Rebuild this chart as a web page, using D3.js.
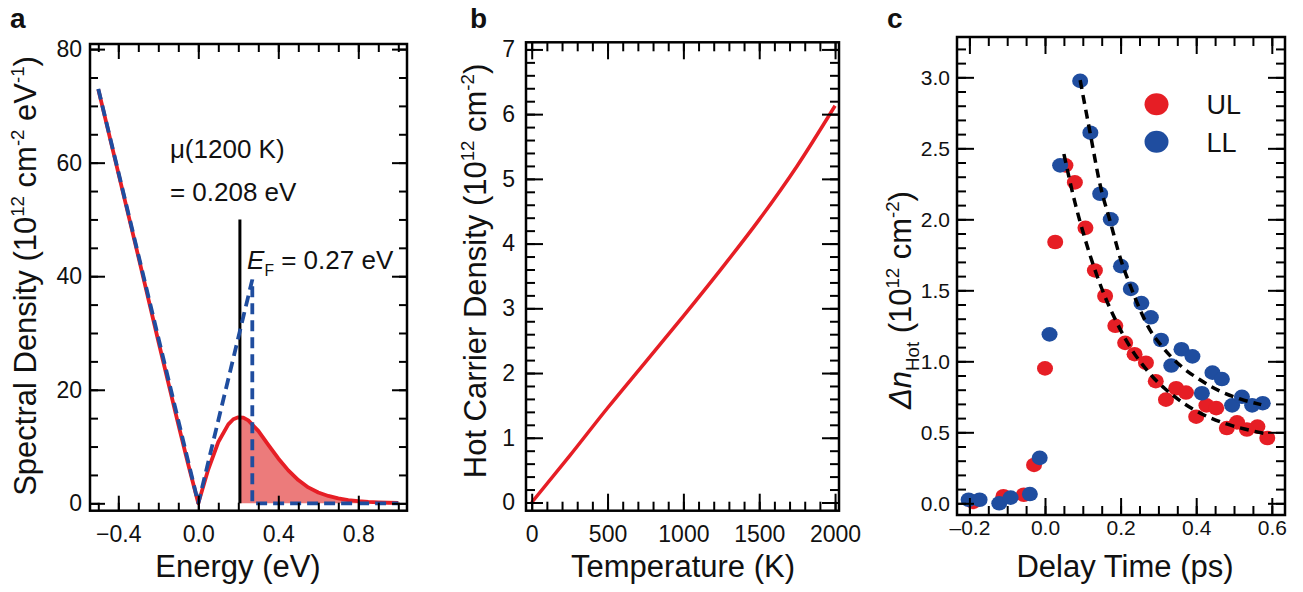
<!DOCTYPE html>
<html>
<head>
<meta charset="utf-8">
<script src="https://cdn.jsdelivr.net/npm/d3@7"></script>
<style>
body { margin: 0; background: #fff; }
text { font-family: "Liberation Sans", Arial, sans-serif; fill: #111; }
</style>
</head>
<body>
<svg id="chart" width="1303" height="592"></svg>
<script>
// ---- panel a: spectral density vs energy
const energyEv = [-0.5, -0.4, -0.3, -0.2, -0.1, -0.05, 0, 0.05, 0.1, 0.15, 0.175, 0.2, 0.225, 0.25, 0.3, 0.35, 0.4, 0.45, 0.5, 0.55, 0.6, 0.65, 0.7, 0.75, 0.8, 0.85, 0.9, 0.95, 1.0];
const spectralHot = [72.9, 58.2, 43.5, 28.6, 13.9, 6.8, 0, 6.0, 10.8, 13.9, 14.8, 15.15, 15.1, 14.6, 12.75, 10.3, 7.9, 5.8, 4.1, 2.8, 1.9, 1.3, 0.87, 0.58, 0.38, 0.25, 0.16, 0.1, 0.07];
const dosEnergyEv = [-0.5, 0, 0.27, 0.27, 1.0];
const dosDensity = [73, 0, 39.4, 0, 0];
const muEv = 0.208;
const muLineTop = 50;

// ---- panel b: hot carrier density vs temperature
const temperatureK = [0, 250, 500, 750, 1000, 1250, 1500, 1750, 2000];
const hotCarrierDensity = [0, 0.72, 1.46, 2.17, 2.88, 3.61, 4.37, 5.2, 6.13];

// ---- panel c: delta n hot vs delay time
const ulDelay = [-0.19, -0.11, -0.056, -0.029, 0.0, 0.027, 0.054, 0.079, 0.107, 0.132, 0.159, 0.186, 0.212, 0.237, 0.267, 0.293, 0.32, 0.347, 0.373, 0.4, 0.427, 0.453, 0.481, 0.508, 0.534, 0.562, 0.588];
const ulDensity = [0.01, 0.05, 0.06, 0.27, 0.95, 1.84, 2.38, 2.26, 1.94, 1.64, 1.46, 1.25, 1.13, 1.05, 0.99, 0.86, 0.73, 0.81, 0.78, 0.61, 0.69, 0.67, 0.53, 0.57, 0.52, 0.54, 0.46];
const llDelay = [-0.202, -0.173, -0.121, -0.091, -0.04, -0.014, 0.012, 0.04, 0.093, 0.12, 0.146, 0.174, 0.201, 0.227, 0.255, 0.28, 0.307, 0.334, 0.361, 0.39, 0.415, 0.443, 0.468, 0.495, 0.521, 0.548, 0.576];
const llDensity = [0.025, 0.025, 0.0, 0.04, 0.065, 0.32, 1.19, 2.38, 2.975, 2.61, 2.18, 2.0, 1.67, 1.51, 1.41, 1.31, 1.15, 0.97, 1.085, 1.035, 0.775, 0.92, 0.875, 0.69, 0.75, 0.69, 0.705];
const ulFitDelay = [0.05, 0.08, 0.105, 0.13, 0.158, 0.185, 0.21, 0.24, 0.263, 0.29, 0.316, 0.369, 0.422, 0.475, 0.528, 0.585];
const ulFitDensity = [2.46, 2.11, 1.87, 1.66, 1.46, 1.3, 1.17, 1.04, 0.96, 0.875, 0.81, 0.7, 0.62, 0.563, 0.523, 0.49];
const llFitDelay = [0.093, 0.12, 0.146, 0.173, 0.2, 0.226, 0.252, 0.278, 0.305, 0.358, 0.41, 0.463, 0.516, 0.572];
const llFitDensity = [2.98, 2.6, 2.24, 1.98, 1.72, 1.53, 1.36, 1.22, 1.12, 0.97, 0.87, 0.79, 0.735, 0.695];
const legendLabels = ["UL", "LL"];

const RED = "#e61e25", BLUE = "#1f4d9f", FILL = "#ec7b7b";

const svg = d3.select("#chart");

function zip(xs, ys){ return xs.map((v, i) => [v, ys[i]]); }

function range(a, b, step){
	// tick positions only
	const out = [];
	for (let v = a; v <= b + step / 1000; v += step) out.push(+v.toFixed(4));
	return out;
}

function richText(sel, parts, size){
	let shift = 0;
	parts.forEach(([str, kind]) => {
		const t = sel.append("tspan").text(str);
		let target = 0;
		if (kind === "sup") { target = -0.4 * size; t.attr("font-size", size * 0.6); }
		else if (kind === "sub") { target = 0.25 * size; t.attr("font-size", size * 0.6); }
		else if (kind === "i") t.attr("font-style", "italic");
		t.attr("dy", target - shift);
		shift = target;
	});
}

function drawAxes(cfg){
	const x = cfg.x, y = cfg.y;
	const [x0, x1] = x.range(), [y0, y1] = y.range();
	const g = svg.append("g");

	const sides = [
		[d3.axisBottom, x, `translate(0,${y0})`, true, cfg.xMajor, cfg.xMinor],
		[d3.axisTop, x, `translate(0,${y1})`, false, cfg.xMajor, cfg.xMinor],
		[d3.axisLeft, y, `translate(${x0},0)`, true, cfg.yMajor, cfg.yMinor],
		[d3.axisRight, y, `translate(${x1},0)`, false, cfg.yMajor, cfg.yMinor]
	];
	sides.forEach(([axisFn, scale, tr, labelled, major, minor], i) => {
		const pad = i < 2 ? cfg.xPad : cfg.yPad;
		const fmt = i < 2 ? cfg.xFormat : cfg.yFormat;
		g.append("g").attr("transform", tr)
			.call(axisFn(scale).tickValues(minor).tickSize(-cfg.minorLen).tickFormat(""));
		g.append("g").attr("transform", tr)
			.call(axisFn(scale).tickValues(major).tickSize(-cfg.majorLen).tickPadding(pad)
				.tickFormat(labelled ? fmt : ""));
	});
	g.selectAll(".domain").remove();
	g.selectAll(".tick line").attr("stroke", "#000").attr("stroke-width", 2);
	g.selectAll(".tick text").attr("font-size", cfg.fontSize).attr("fill", "#111")
		.attr("font-family", "\"Liberation Sans\", Arial, sans-serif");

	g.append("rect")
		.attr("x", x0).attr("y", y1)
		.attr("width", x1 - x0).attr("height", y0 - y1)
		.attr("fill", "none").attr("stroke", "#000").attr("stroke-width", 2.5);
}

function panelLabel(txt, px, py){
	svg.append("text").attr("x", px).attr("y", py)
		.attr("font-size", 28).attr("font-weight", "bold").text(txt);
}

function xTitle(txt, cx, by){
	svg.append("text").attr("x", cx).attr("y", by).attr("text-anchor", "middle")
		.attr("font-size", 31).text(txt);
}

function yTitle(parts, bx, cy){
	const t = svg.append("text")
		.attr("transform", `translate(${bx},${cy}) rotate(-90)`)
		.attr("text-anchor", "middle").attr("font-size", 31);
	richText(t, parts, 31);
}

/* ---------------- panel a ---------------- */
function drawPanelA(){
	const x = d3.scaleLinear().domain([-0.5415, 1.0435]).range([90, 407]);
	const y = d3.scaleLinear().domain([-1.3, 80.9]).range([510.7, 44]);

	const red = zip(energyEv, spectralHot);
	const i = red.findIndex(d => d[0] > muEv);
	const [ea, da] = red[i - 1], [eb, db] = red[i];
	const muVal = da + (db - da) * (muEv - ea) / (eb - ea);
	const hot = [[muEv, muVal]].concat(red.filter(d => d[0] > muEv));

	svg.append("path").datum(hot)
		.attr("d", d3.area().x(d => x(d[0])).y0(y(0)).y1(d => y(d[1])))
		.attr("fill", FILL);

	svg.append("path").datum(red)
		.attr("d", d3.line().x(d => x(d[0])).y(d => y(d[1])))
		.attr("fill", "none").attr("stroke", RED).attr("stroke-width", 3.8)
		.attr("stroke-linejoin", "round");

	svg.append("line")
		.attr("x1", x(muEv)).attr("x2", x(muEv))
		.attr("y1", y(0)).attr("y2", y(muLineTop))
		.attr("stroke", "#000").attr("stroke-width", 3);

	svg.append("path").datum(zip(dosEnergyEv, dosDensity))
		.attr("d", d3.line().x(d => x(d[0])).y(d => y(d[1])))
		.attr("fill", "none").attr("stroke", BLUE).attr("stroke-width", 3.8)
		.attr("stroke-dasharray", "11,6");

	drawAxes({
		x, y,
		xMajor: [-0.4, 0, 0.4, 0.8], xMinor: range(-0.5, 1.0, 0.1),
		yMajor: [0, 20, 40, 60, 80], yMinor: range(0, 80, 5),
		xFormat: d3.format(".1f"), yFormat: d3.format("d"),
		majorLen: 15, minorLen: 8, xPad: 15, yPad: 8, fontSize: 23
	});

	svg.append("text").attr("x", x(-0.142)).attr("y", 158).attr("font-size", 26).text("\u03bc(1200 K)");
	svg.append("text").attr("x", x(-0.142)).attr("y", 201).attr("font-size", 26).text("= 0.208 eV");
	const ef = svg.append("text").attr("x", x(0.244)).attr("y", 269).attr("font-size", 26);
	richText(ef, [["E", "i"], ["F", "sub"], [" = 0.27 eV"]], 26);

	panelLabel("a", 10, 28);
	xTitle("Energy (eV)", 238, 577);
	yTitle([["Spectral Density (10"], ["12", "sup"], [" cm"], ["-2", "sup"], [" eV"], ["-1", "sup"], [")"]], 36, 276);
}

/* ---------------- panel b ---------------- */
function drawPanelB(){
	const x = d3.scaleLinear().domain([-37.6, 2026]).range([526, 839]);
	const y = d3.scaleLinear().domain([-0.127, 7.11]).range([510.7, 42.3]);

	svg.append("path").datum(zip(temperatureK, hotCarrierDensity))
		.attr("d", d3.line().curve(d3.curveMonotoneX).x(d => x(d[0])).y(d => y(d[1])))
		.attr("fill", "none").attr("stroke", RED).attr("stroke-width", 3.5);

	drawAxes({
		x, y,
		xMajor: [0, 500, 1000, 1500, 2000], xMinor: range(0, 2000, 100),
		yMajor: [0, 1, 2, 3, 4, 5, 6, 7], yMinor: range(0, 7, 0.2),
		xFormat: d3.format("d"), yFormat: d3.format("d"),
		majorLen: 17, minorLen: 9, xPad: 15, yPad: 11, fontSize: 23
	});

	panelLabel("b", 470, 28);
	xTitle("Temperature (K)", 683, 577);
	yTitle([["Hot Carrier Density (10"], ["12", "sup"], [" cm"], ["-2", "sup"], [")"]], 486, 271);
}

/* ---------------- panel c ---------------- */
function drawPanelC(){
	const x = d3.scaleLinear().domain([-0.2328, 0.6349]).range([957, 1285]);
	const y = d3.scaleLinear().domain([-0.0824, 3.284]).range([515, 37]);

	const series = [
		{ pts: zip(ulDelay, ulDensity), color: RED },
		{ pts: zip(llDelay, llDensity), color: BLUE }
	];
	series.forEach(s => {
		svg.append("g").selectAll("ellipse").data(s.pts).enter()
			.append("ellipse")
			.attr("cx", d => x(d[0])).attr("cy", d => y(d[1]))
			.attr("rx", 8).attr("ry", 7.3).attr("fill", s.color);
	});

	[zip(ulFitDelay, ulFitDensity), zip(llFitDelay, llFitDensity)].forEach(fit => {
		svg.append("path").datum(fit)
			.attr("d", d3.line().curve(d3.curveMonotoneX).x(d => x(d[0])).y(d => y(d[1])))
			.attr("fill", "none").attr("stroke", "#000").attr("stroke-width", 3.5)
			.attr("stroke-dasharray", "9,6");
	});

	drawAxes({
		x, y,
		xMajor: [-0.2, 0, 0.2, 0.4, 0.6], xMinor: range(-0.2, 0.6, 0.05),
		yMajor: [0, 0.5, 1, 1.5, 2, 2.5, 3], yMinor: range(0, 3.2, 0.1),
		xFormat: d => (d < 0 ? "\u2013" + d3.format(".1f")(-d) : d3.format(".1f")(d)),
		yFormat: d3.format(".1f"),
		majorLen: 17, minorLen: 9, xPad: 5, yPad: 7, fontSize: 21
	});

	// legend
	const lg = svg.append("g").attr("transform", `translate(${x(0.295)},${y(2.81)})`);
	legendLabels.forEach((lab, i) => {
		lg.append("ellipse").attr("cx", 0).attr("cy", i * 37.5).attr("rx", 12).attr("ry", 11)
			.attr("fill", i === 0 ? RED : BLUE);
		lg.append("text").attr("x", 50).attr("y", i * 37.5 + 10)
			.attr("font-size", 27).text(lab);
	});

	panelLabel("c", 887, 28);
	xTitle("Delay Time (ps)", 1125, 577);
	yTitle([["\u0394", "i"], ["n", "i"], ["Hot", "sub"], [" (10"], ["12", "sup"], [" cm"], ["-2", "sup"], [")"]], 911, 300);
}

drawPanelA();
drawPanelB();
drawPanelC();
</script>
</body>
</html>
